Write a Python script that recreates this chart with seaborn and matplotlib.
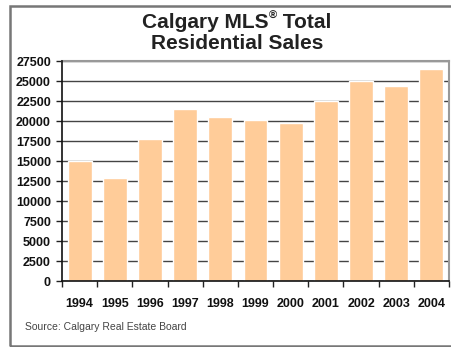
import matplotlib
matplotlib.use("Agg")
import matplotlib.pyplot as plt
import seaborn as sns
import pandas as pd
from matplotlib.ticker import FixedLocator
from matplotlib.patches import Rectangle

years = ["1994", "1995", "1996", "1997", "1998", "1999", "2000", "2001", "2002", "2003", "2004"]
sales = [15100, 12950, 17800, 21550, 20550, 20150, 19800, 22550, 25050, 24450, 26550]
y_ticks = list(range(0, 27501, 2500))

sns.set_theme(style="white")
plt.rcParams['font.family'] = ['Liberation Sans', 'DejaVu Sans']

df = pd.DataFrame({"Year": years, "Sales": sales})

W, H = 452, 347
fig = plt.figure(figsize=(W/100, H/100), dpi=100)
ax = fig.add_axes([62/W, 1-281.3/H, (449-62)/W, (281.3-61.3)/H])

sns.barplot(data=df, x="Year", y="Sales", color="#FFCC99", saturation=1,
            width=0.68, ax=ax, zorder=3)

ax.set_xlim(-0.5, len(years)-0.5)
ax.set_ylim(0, 27500)
ax.set_yticks(y_ticks)
ax.set_yticklabels([str(v) for v in y_ticks], fontweight="bold", fontsize=9, color="#111111")
ax.set_xlabel("")
ax.set_ylabel("")

ax.set_xticks(range(len(years)))
ax.set_xticklabels(years, fontweight="bold", fontsize=9, color="#111111")
ax.tick_params(axis="x", which="major", length=0, pad=12)
ax.xaxis.set_minor_locator(FixedLocator([i - 0.5 for i in range(len(years)+1)]))
ax.tick_params(axis="x", which="minor", length=4, width=1, color="#222222", direction="out", bottom=True)
ax.tick_params(axis="y", which="major", length=4, width=1, color="#222222", direction="out", left=True, pad=4)

ax.yaxis.grid(True, color="#444444", linewidth=1, zorder=0)
ax.set_axisbelow(True)

for s in ["left", "bottom"]:
    ax.spines[s].set_color("#111111")
    ax.spines[s].set_linewidth(1.2)
    ax.spines[s].set_zorder(5)
for s in ["top", "right"]:
    ax.spines[s].set_visible(True)
    ax.spines[s].set_color("#999999")
    ax.spines[s].set_linewidth(1.5)

# Title line 1 built from pieces so the registered mark is a small superscript
title_kw = dict(fontsize=15, fontweight="bold", color="#222222")
renderer = fig.canvas.get_renderer()
t1 = fig.text(0, 0, "Calgary MLS", **title_kw)
t2 = fig.text(0, 0, "®", fontsize=8, fontweight="bold", color="#222222")
t3 = fig.text(0, 0, " Total", **title_kw)
w1 = t1.get_window_extent(renderer).width
w2 = t2.get_window_extent(renderer).width
w3 = t3.get_window_extent(renderer).width
total = w1 + w2 + w3
x0 = 237 - total / 2
base1 = H - 28  # baseline in pixels from bottom
t1.set_position((x0 / W, base1 / H)); t1.set_va("baseline")
t2.set_position(((x0 + w1) / W, (base1 + 9) / H)); t2.set_va("baseline")
t3.set_position(((x0 + w1 + w2) / W, base1 / H)); t3.set_va("baseline")

fig.text(237/W, (H - 49)/H, "Residential Sales", ha="center", va="baseline", **title_kw)

fig.text(25/W, 1-327/H, "Source: Calgary Real Estate Board", ha="left", va="center",
         fontsize=7.5, color="#444444")

frame = Rectangle((10/W, 1-345.5/H), 1.0, (345.5-6)/H, transform=fig.transFigure,
                  fill=False, edgecolor="#777777", linewidth=1.8)
fig.patches.append(frame)

fig.savefig("out.png", dpi=100)
